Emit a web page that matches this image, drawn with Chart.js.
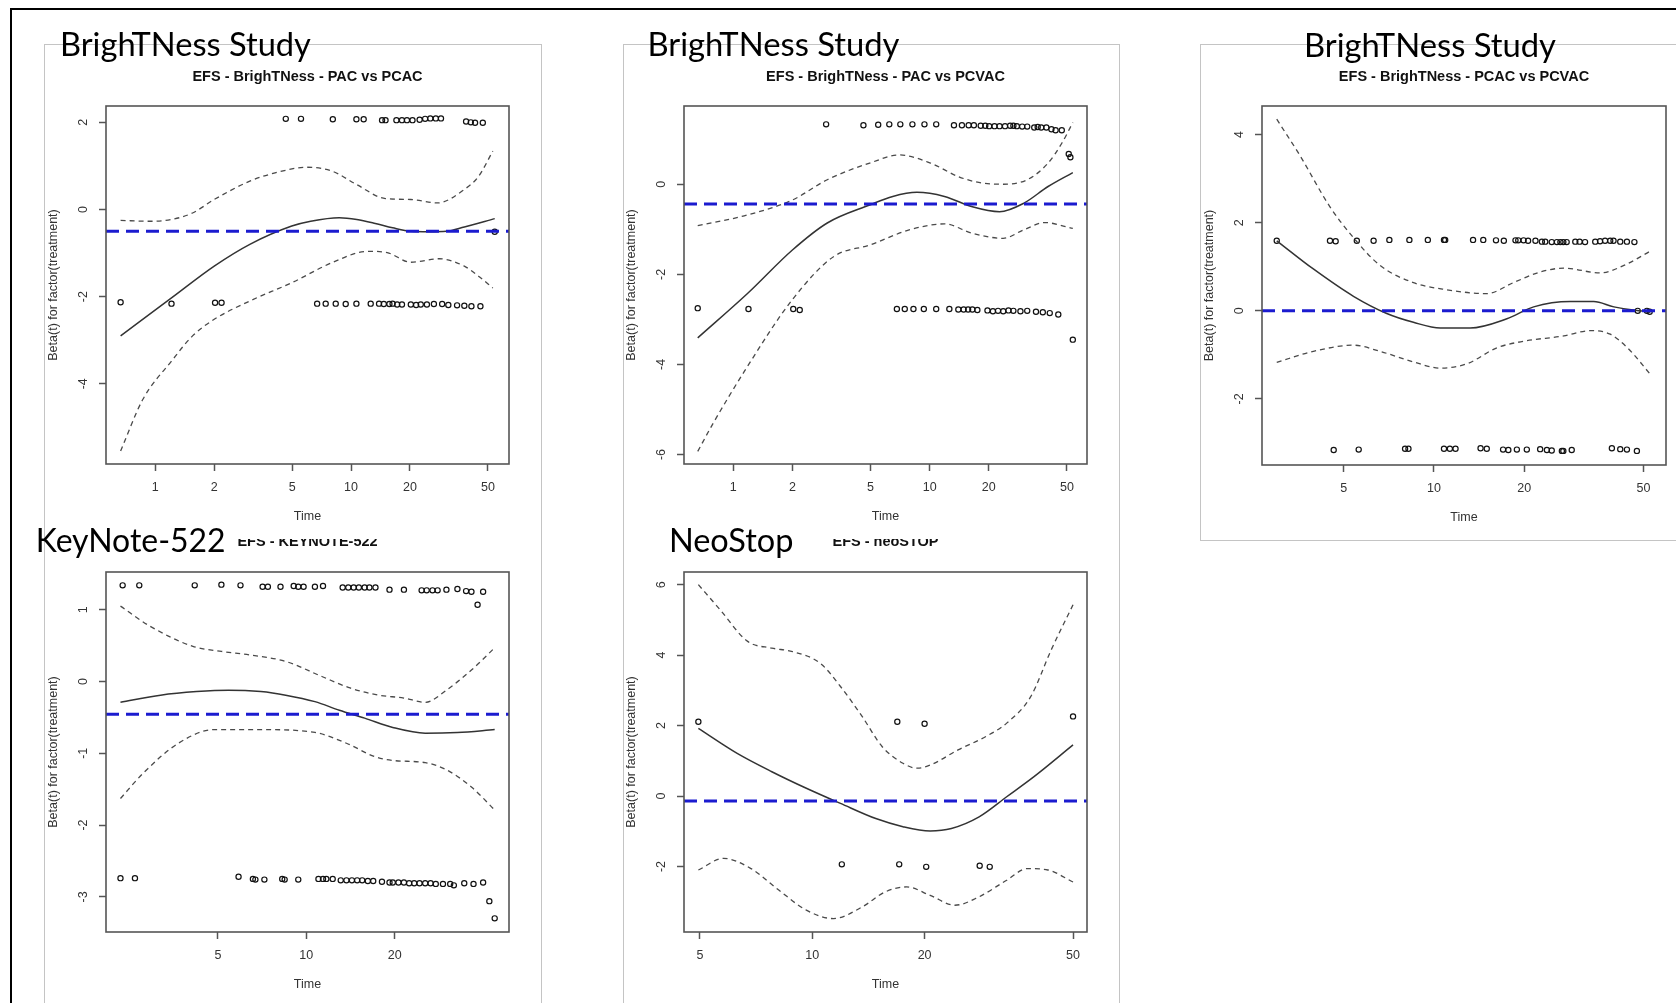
<!DOCTYPE html>
<html>
<head>
<meta charset="utf-8">
<script src="https://cdn.jsdelivr.net/npm/chart.js@4.4.1/dist/chart.umd.min.js"></script>
<style>
  html, body { margin: 0; padding: 0; background: #fff; }
  body { width: 1676px; height: 1003px; position: relative; overflow: hidden; }
  .frame { position: absolute; left: 10px; top: 8px; width: 1700px; height: 1100px;
           border-left: 2.5px solid #000; border-top: 2.5px solid #000; }
  .box { position: absolute; border: 1px solid #c4c4c4; }
  .big { position: absolute; font-family: Lato, "Open Sans", sans-serif; color: #000;
         white-space: nowrap; line-height: 1.2; z-index: 3; }
  canvas { position: absolute; z-index: 2; }
</style>
</head>
<body>
<div class="frame"></div>
<div class="box" style="left:44px;top:44px;width:496px;height:1000px;border-bottom:none"></div>
<div class="box" style="left:623px;top:44px;width:495px;height:1000px;border-bottom:none"></div>
<div class="box" style="left:1200px;top:44px;width:520px;height:495px;border-right:none"></div>
<script>
// ---- BrighTNess PAC vs PCAC ----
const p1XTicks = [1, 2, 5, 10, 20, 50];
const p1YTicks = [-4, -2, 0, 2];
const p1Coef = -0.5;
const p1FitTime = [0.665, 1.21, 2.0, 3.04, 4.98, 6.22, 8.7, 10.7, 13.3, 16.3, 20.2, 24.9, 30.7, 37.9, 54.2];
const p1FitBeta = [-2.9, -2.03, -1.3, -0.8, -0.38, -0.27, -0.19, -0.23, -0.32, -0.42, -0.5, -0.51, -0.5, -0.4, -0.21];
const p1UpperTime = [0.665, 0.939, 1.21, 1.55, 2.0, 3.04, 4.09, 5.97, 8.0, 10.7, 15.0, 20.2, 27.6, 37.9, 44.8, 53.0];
const p1UpperBeta = [-0.25, -0.27, -0.23, -0.08, 0.23, 0.65, 0.84, 0.97, 0.88, 0.57, 0.25, 0.23, 0.15, 0.46, 0.76, 1.34];
const p1LowerTime = [0.665, 0.863, 1.21, 1.55, 2.0, 3.04, 4.98, 8.0, 12.2, 15.3, 20.2, 28.2, 37.9, 44.8, 53.0];
const p1LowerBeta = [-5.54, -4.36, -3.48, -2.9, -2.52, -2.1, -1.68, -1.22, -0.96, -0.99, -1.21, -1.13, -1.3, -1.53, -1.8];
const p1PointTime = [4.64, 5.55, 8.07, 10.65, 11.6, 14.4, 15.0, 17.05, 18.2, 19.3, 20.6, 22.4, 23.9, 25.4, 27.1, 28.8, 38.7, 40.9, 43.0, 47.1,
  0.665, 1.21, 2.02, 2.18, 6.71, 7.42, 8.35, 9.39, 10.65, 12.6, 13.9, 14.7, 15.7, 16.3, 17.2, 18.2, 20.2, 21.5, 22.7, 24.4, 26.5, 29.2, 31.4, 34.8, 37.9, 41.2, 45.8,
  54.2];
const p1PointBeta = [2.08, 2.08, 2.07, 2.07, 2.07, 2.05, 2.05, 2.05, 2.05, 2.05, 2.05, 2.06, 2.08, 2.09, 2.09, 2.09, 2.02, 2.0, 1.99, 1.99,
  -2.13, -2.16, -2.14, -2.14, -2.16, -2.16, -2.16, -2.17, -2.16, -2.16, -2.16, -2.17, -2.17, -2.16, -2.18, -2.18, -2.18, -2.19, -2.18, -2.18, -2.17, -2.17, -2.19, -2.2, -2.21, -2.22, -2.22,
  -0.51];

// ---- BrighTNess PAC vs PCVAC ----
const p2XTicks = [1, 2, 5, 10, 20, 50];
const p2YTicks = [-6, -4, -2, 0];
const p2Coef = -0.44;
const p2FitTime = [0.659, 1.185, 2.0, 3.01, 4.95, 6.49, 8.61, 11.9, 16.5, 22.7, 30.2, 40.1, 53.6];
const p2FitBeta = [-3.41, -2.42, -1.46, -0.86, -0.46, -0.27, -0.18, -0.27, -0.5, -0.61, -0.42, -0.05, 0.26];
const p2UpperTime = [0.659, 1.185, 2.0, 3.01, 4.95, 7.03, 10.1, 14.0, 17.8, 23.7, 31.4, 40.1, 47.1, 53.6];
const p2UpperBeta = [-0.92, -0.68, -0.35, 0.1, 0.47, 0.65, 0.47, 0.17, 0.04, 0.0, 0.1, 0.47, 0.91, 1.37];
const p2LowerTime = [0.659, 0.791, 1.14, 2.0, 3.26, 4.95, 7.94, 11.9, 16.5, 23.7, 30.2, 38.5, 53.6];
const p2LowerBeta = [-5.93, -5.3, -4.15, -2.56, -1.6, -1.35, -1.01, -0.88, -1.09, -1.2, -1.01, -0.85, -0.98];
const p2PointTime = [2.97, 4.6, 5.47, 6.23, 7.09, 8.17, 9.41, 10.8, 13.3, 14.6, 15.8, 16.8, 18.2, 19.2, 20.1, 21.4, 22.7, 24.2, 25.7, 26.7, 27.8, 29.6, 31.4, 34.1, 35.5, 37.0, 39.3, 41.7, 43.8, 47.1, 51.1, 52.1,
  0.659, 1.195, 2.02, 2.18, 6.81, 7.47, 8.27, 9.34, 10.8, 12.6, 14.0, 14.9, 15.7, 16.5, 17.5, 19.7, 21.0, 22.3, 23.7, 25.2, 26.7, 29.0, 31.4, 34.8, 37.7, 40.9, 45.2, 53.6];
const p2PointBeta = [1.33, 1.31, 1.32, 1.33, 1.33, 1.33, 1.33, 1.33, 1.31, 1.31, 1.31, 1.31, 1.3, 1.3, 1.29, 1.29, 1.29, 1.29, 1.3, 1.3, 1.29, 1.28, 1.28, 1.26, 1.27, 1.26, 1.26, 1.22, 1.2, 1.2, 0.67, 0.6,
  -2.75, -2.77, -2.77, -2.79, -2.77, -2.77, -2.77, -2.77, -2.77, -2.77, -2.78, -2.78, -2.78, -2.78, -2.79, -2.8, -2.82, -2.81, -2.82, -2.8, -2.81, -2.82, -2.81, -2.83, -2.84, -2.86, -2.89, -3.45];

// ---- BrighTNess PCAC vs PCVAC ----
const p3XTicks = [5, 10, 20, 50];
const p3YTicks = [-2, 0, 2, 4];
const p3Coef = 0;
const p3FitTime = [2.99, 3.96, 5.39, 6.96, 8.54, 10.5, 13.2, 17.5, 21.5, 28.5, 34.1, 39.8, 48.2, 52.8];
const p3FitBeta = [1.59, 0.95, 0.33, -0.06, -0.26, -0.39, -0.39, -0.18, 0.09, 0.21, 0.21, 0.09, 0.0, -0.02];
const p3UpperTime = [2.99, 3.57, 4.5, 5.39, 6.61, 8.54, 11.0, 15.0, 18.4, 22.6, 27.1, 35.9, 43.0, 52.8];
const p3UpperBeta = [4.35, 3.53, 2.36, 1.66, 1.03, 0.64, 0.48, 0.39, 0.64, 0.88, 0.97, 0.86, 1.03, 1.36];
const p3LowerTime = [2.99, 3.96, 5.39, 6.61, 8.54, 10.5, 12.9, 16.2, 19.9, 27.1, 33.2, 38.7, 44.2, 52.8];
const p3LowerBeta = [-1.17, -0.92, -0.78, -0.92, -1.16, -1.3, -1.2, -0.84, -0.69, -0.57, -0.45, -0.53, -0.84, -1.45];
const p3PointTime = [2.99, 4.5, 4.7, 5.53, 6.29, 7.1, 8.28, 9.54, 10.8, 10.9, 13.5, 14.6, 16.1, 17.1, 18.7, 19.1, 19.9, 20.6, 21.8, 22.9, 23.5, 24.7, 25.7, 26.4, 27.0, 27.7, 29.6, 30.6, 31.9, 34.5, 35.8, 37.2, 38.7, 39.7, 41.8, 44.0, 46.6,
  47.8, 51.3, 52.4,
  4.63, 5.61, 8.01, 8.22, 10.8, 11.3, 11.8, 14.3, 15.0, 17.0, 17.7, 18.9, 20.4, 22.6, 23.8, 24.7, 26.7, 27.0, 28.8, 39.2, 41.8, 44.0, 47.5];
const p3PointBeta = [1.59, 1.59, 1.58, 1.59, 1.59, 1.61, 1.61, 1.61, 1.61, 1.61, 1.61, 1.61, 1.6, 1.59, 1.6, 1.6, 1.6, 1.59, 1.59, 1.57, 1.57, 1.56, 1.56, 1.56, 1.56, 1.56, 1.57, 1.57, 1.56, 1.57, 1.58, 1.59, 1.59, 1.59, 1.57, 1.57, 1.56,
  0, 0, -0.02,
  -3.16, -3.15, -3.13, -3.13, -3.13, -3.13, -3.13, -3.12, -3.13, -3.15, -3.16, -3.15, -3.15, -3.14, -3.16, -3.17, -3.18, -3.18, -3.16, -3.12, -3.14, -3.15, -3.18];

// ---- KEYNOTE-522 ----
const p4XTicks = [5, 10, 20];
const p4YTicks = [-3, -2, -1, 0, 1];
const p4Coef = -0.456;
const p4FitTime = [2.33, 3.19, 4.23, 5.44, 7.0, 8.51, 10.7, 12.96, 15.8, 19.7, 25.4, 32.7, 43.8];
const p4FitBeta = [-0.29, -0.19, -0.14, -0.12, -0.14, -0.19, -0.28, -0.4, -0.51, -0.64, -0.72, -0.71, -0.67];
const p4UpperTime = [2.33, 2.94, 4.11, 5.14, 6.44, 8.51, 11.3, 14.1, 17.6, 21.5, 25.4, 30.0, 36.5, 43.8];
const p4UpperBeta = [1.05, 0.77, 0.49, 0.42, 0.37, 0.28, 0.07, -0.09, -0.19, -0.23, -0.29, -0.12, 0.16, 0.47];
const p4LowerTime = [2.33, 2.78, 3.67, 4.86, 7.0, 10.7, 13.7, 17.2, 19.7, 25.4, 30.0, 36.5, 43.8];
const p4LowerBeta = [-1.63, -1.28, -0.86, -0.67, -0.67, -0.71, -0.86, -1.05, -1.1, -1.13, -1.23, -1.47, -1.79];
const p4PointTime = [2.37, 2.7, 4.17, 5.14, 5.97, 7.1, 7.4, 8.17, 9.06, 9.39, 9.79, 10.7, 11.4, 13.3, 13.9, 14.5, 15.1, 15.8, 16.4, 17.2, 19.2, 21.5, 24.7, 25.7, 26.9, 28.0, 30.0, 32.7, 35.0, 36.5, 40.0, 38.3,
  2.33, 2.61, 5.88, 6.58, 6.71, 7.2, 8.28, 8.44, 9.39, 11.0, 11.4, 11.7, 12.3, 13.1, 13.7, 14.3, 14.9, 15.5, 16.2, 16.9, 18.1, 19.2, 19.7, 20.6, 21.5, 22.4, 23.3, 24.3, 25.4, 26.5, 27.6, 29.2, 30.9, 31.8, 34.5, 37.1, 40.0, 42.0, 43.8];
const p4PointBeta = [1.34, 1.34, 1.34, 1.35, 1.34, 1.32, 1.32, 1.32, 1.33, 1.32, 1.32, 1.32, 1.33, 1.31, 1.31, 1.31, 1.31, 1.31, 1.31, 1.31, 1.28, 1.28, 1.27, 1.27, 1.27, 1.27, 1.28, 1.29, 1.26, 1.25, 1.25, 1.07,
  -2.74, -2.74, -2.72, -2.75, -2.76, -2.76, -2.75, -2.76, -2.76, -2.75, -2.75, -2.75, -2.75, -2.77, -2.77, -2.77, -2.77, -2.77, -2.78, -2.78, -2.79, -2.8, -2.8, -2.8, -2.8, -2.81, -2.81, -2.81, -2.81, -2.81, -2.82, -2.82, -2.82, -2.84, -2.81, -2.82, -2.8, -3.06, -3.3];

// ---- neoSTOP ----
const p5XTicks = [5, 10, 20, 50];
const p5YTicks = [-2, 0, 2, 4, 6];
const p5Coef = -0.14;
const p5FitTime = [4.95, 6.29, 7.79, 9.64, 11.9, 14.8, 17.5, 20.7, 23.6, 28.0, 33.2, 39.3, 50.0];
const p5FitBeta = [1.92, 1.21, 0.69, 0.22, -0.21, -0.64, -0.87, -0.99, -0.92, -0.59, -0.02, 0.55, 1.45];
const p5UpperTime = [4.95, 5.66, 6.71, 7.79, 8.85, 10.5, 11.9, 13.6, 15.4, 17.5, 19.1, 20.7, 24.6, 29.2, 33.2, 38.5, 43.7, 50.0];
const p5UpperBeta = [6.0, 5.29, 4.39, 4.2, 4.1, 3.77, 3.11, 2.26, 1.4, 0.93, 0.79, 0.88, 1.31, 1.69, 2.07, 2.82, 4.15, 5.43];
const p5LowerTime = [4.95, 5.78, 6.85, 8.13, 9.64, 11.4, 13.6, 15.7, 17.9, 20.7, 24.1, 28.0, 33.2, 37.7, 42.8, 50.0];
const p5LowerBeta = [-2.1, -1.77, -2.06, -2.67, -3.24, -3.48, -3.15, -2.72, -2.58, -2.82, -3.1, -2.86, -2.39, -2.06, -2.1, -2.44];
const p5PointTime = [4.95, 16.9, 20.0, 50.0, 12.0, 17.1, 20.2, 28.1, 29.9];
const p5PointBeta = [2.11, 2.11, 2.05, 2.26, -1.94, -1.94, -2.01, -1.98, -2.01];

Chart.defaults.font.family = '"Liberation Sans", Arial, sans-serif';
Chart.defaults.color = '#333';

const xy = (xs, ys) => xs.map((x, i) => ({ x: x, y: ys[i] }));

// R style closed box around the plot region
const plotBox = {
  id: 'plotBox',
  afterDatasetsDraw(chart) {
    const a = chart.chartArea;
    const ctx = chart.ctx;
    ctx.save();
    ctx.strokeStyle = '#555';
    ctx.lineWidth = 1.6;
    ctx.strokeRect(a.left, a.top, a.right - a.left, a.bottom - a.top);
    ctx.restore();
  }
};

const tickGrid = { display: true, drawOnChartArea: false, drawTicks: true, tickLength: 7, tickWidth: 1.5, tickColor: '#555' };

function drawPanel(p) {
  const el = document.createElement('canvas');
  el.width = p.w;
  el.height = p.h;
  el.style.left = p.left + 'px';
  el.style.top = p.top + 'px';
  document.body.appendChild(el);

  const curve = (xs, ys, dash, color, width) => ({
    data: xy(xs, ys), showLine: true, pointRadius: 0, borderColor: color,
    borderWidth: width, borderDash: dash, cubicInterpolationMode: 'monotone'
  });

  new Chart(el, {
    type: 'scatter',
    data: {
      datasets: [
        { data: [{ x: p.xMin, y: p.coef }, { x: p.xMax, y: p.coef }], showLine: true, pointRadius: 0,
          borderColor: '#1b1bcf', borderWidth: 3, borderDash: [13, 7] },
        curve(p.fitT, p.fitB, [], '#333', 1.5),
        curve(p.upT, p.upB, [5, 4], '#4a4a4a', 1.3),
        curve(p.loT, p.loB, [5, 4], '#4a4a4a', 1.3),
        { data: xy(p.ptT, p.ptB), pointRadius: 2.6, pointBorderWidth: 1.2,
          pointBorderColor: '#111', pointBackgroundColor: 'rgba(0,0,0,0)' }
      ]
    },
    options: {
      responsive: false,
      animation: false,
      devicePixelRatio: 1,
      layout: { padding: { left: 0, right: 8, top: 0, bottom: 0 } },
      plugins: {
        legend: { display: false },
        tooltip: { enabled: false },
        title: {
          display: true, text: p.title, color: '#111', fullSize: false,
          font: { size: 14.5, weight: 'bold' },
          padding: { top: p.tPad, bottom: p.bPad }
        }
      },
      scales: {
        x: {
          type: 'logarithmic', min: p.xMin, max: p.xMax, bounds: 'data',
          afterBuildTicks: s => { s.ticks = p.xTicks.map(v => ({ value: v })); },
          afterFit: s => { s.height = 60; },
          ticks: { autoSkip: false, maxRotation: 0, padding: 9.5, font: { size: 12.5 }, callback: v => String(v) },
          grid: tickGrid,
          border: { display: false },
          title: { display: true, text: 'Time', font: { size: 12.5 }, padding: 0 }
        },
        y: {
          min: p.yMin, max: p.yMax,
          afterBuildTicks: s => { s.ticks = p.yTicks.map(v => ({ value: v })); },
          afterFit: s => { s.width = 60; },
          ticks: { minRotation: 90, crossAlign: 'center', padding: 9.9, font: { size: 12.5 }, callback: v => String(v) },
          grid: tickGrid,
          border: { display: false },
          title: { display: true, text: 'Beta(t) for factor(treatment)', font: { size: 12.5 }, padding: 0 }
        }
      }
    },
    plugins: [plotBox]
  });
}

drawPanel({ left: 46, top: 50, w: 471, h: 474, title: 'EFS - BrighTNess - PAC vs PCAC', tPad: 17.8, bPad: 20.8,
  xMin: 0.56, xMax: 64.1, yMin: -5.84, yMax: 2.375, xTicks: p1XTicks, yTicks: p1YTicks, coef: p1Coef,
  fitT: p1FitTime, fitB: p1FitBeta, upT: p1UpperTime, upB: p1UpperBeta, loT: p1LowerTime, loB: p1LowerBeta,
  ptT: p1PointTime, ptB: p1PointBeta });

drawPanel({ left: 624, top: 50, w: 471, h: 474, title: 'EFS - BrighTNess - PAC vs PCVAC', tPad: 17.8, bPad: 20.8,
  xMin: 0.561, xMax: 63.3, yMin: -6.21, yMax: 1.737, xTicks: p2XTicks, yTicks: p2YTicks, coef: p2Coef,
  fitT: p2FitTime, fitB: p2FitBeta, upT: p2UpperTime, upB: p2UpperBeta, loT: p2LowerTime, loB: p2LowerBeta,
  ptT: p2PointTime, ptB: p2PointBeta });

drawPanel({ left: 1202, top: 50, w: 472, h: 475, title: 'EFS - BrighTNess - PCAC vs PCVAC', tPad: 17.8, bPad: 20.8,
  xMin: 2.67, xMax: 59.4, yMin: -3.5, yMax: 4.65, xTicks: p3XTicks, yTicks: p3YTicks, coef: p3Coef,
  fitT: p3FitTime, fitB: p3FitBeta, upT: p3UpperTime, upB: p3UpperBeta, loT: p3LowerTime, loB: p3LowerBeta,
  ptT: p3PointTime, ptB: p3PointBeta });

drawPanel({ left: 46, top: 539, w: 471, h: 453, title: 'EFS - KEYNOTE-522', tPad: -6.2, bPad: 21.8,
  xMin: 2.08, xMax: 49.0, yMin: -3.49, yMax: 1.526, xTicks: p4XTicks, yTicks: p4YTicks, coef: p4Coef,
  fitT: p4FitTime, fitB: p4FitBeta, upT: p4UpperTime, upB: p4UpperBeta, loT: p4LowerTime, loB: p4LowerBeta,
  ptT: p4PointTime, ptB: p4PointBeta });

drawPanel({ left: 624, top: 539, w: 471, h: 453, title: 'EFS - neoSTOP', tPad: -6.2, bPad: 21.8,
  xMin: 4.53, xMax: 54.5, yMin: -3.86, yMax: 6.36, xTicks: p5XTicks, yTicks: p5YTicks, coef: p5Coef,
  fitT: p5FitTime, fitB: p5FitBeta, upT: p5UpperTime, upB: p5UpperBeta, loT: p5LowerTime, loB: p5LowerBeta,
  ptT: p5PointTime, ptB: p5PointBeta });

// slide headings, sized to the width they take in the picture
function bigTitle(text, left, baseline, width) {
  const el = document.createElement('div');
  el.className = 'big';
  el.textContent = text;
  const mark = document.createElement('span');
  mark.style.cssText = 'display:inline-block;width:0;height:0;vertical-align:baseline';
  el.appendChild(mark);
  el.style.fontSize = '36px';
  document.body.appendChild(el);
  const size = 36 * width / el.getBoundingClientRect().width;
  el.style.fontSize = size + 'px';
  const base = mark.getBoundingClientRect().top - el.getBoundingClientRect().top;
  el.style.left = left + 'px';
  el.style.top = (baseline - base) + 'px';
}

bigTitle('BrighTNess Study', 60, 56, 251);
bigTitle('BrighTNess Study', 647.5, 56, 252);
bigTitle('BrighTNess Study', 1304, 57, 252);
bigTitle('KeyNote-522', 35.7, 551.7, 190);
bigTitle('NeoStop', 668.9, 551.7, 124.6);
</script>
</body>
</html>
